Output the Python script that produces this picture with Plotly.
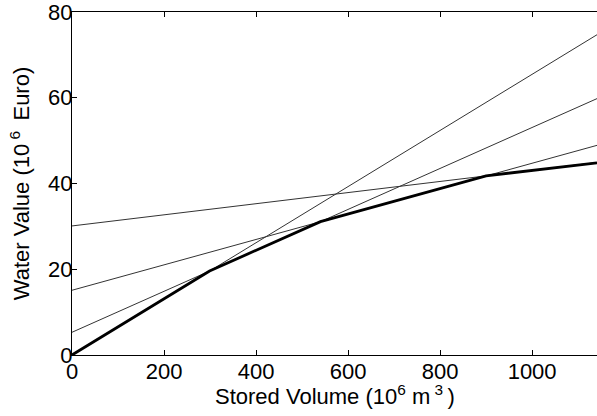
import plotly.graph_objects as go

# thin supporting lines: value at x = 0 and at right edge
x_ends = [0, 1141]
line1 = [0.0, 74.7]
line2 = [5.3, 59.8]
line3 = [15.1, 48.9]
line4 = [30.1, 44.9]

# bold envelope (water value function)
env_x = [0, 299, 540, 900, 1141]
env_y = [0.0, 19.6, 31.1, 41.8, 44.8]

x_ticks = [0, 200, 400, 600, 800, 1000]
y_ticks = [0, 20, 40, 60, 80]

fig = go.Figure()
for ys in [line1, line2, line3, line4]:
    fig.add_trace(go.Scatter(x=x_ends, y=ys, mode="lines",
                             line=dict(color="#333333", width=1), showlegend=False))
fig.add_trace(go.Scatter(x=env_x, y=env_y, mode="lines",
                         line=dict(color="black", width=2.8), showlegend=False))

font = dict(family="Liberation Sans, Arial, sans-serif", size=22, color="black")
fig.update_layout(
    width=597, height=416,
    margin=dict(l=72, r=0, t=10, b=61),
    paper_bgcolor="white", plot_bgcolor="white",
    font=font,
    showlegend=False,
)
fig.add_annotation(text="Stored Volume (10<sup>6</sup> m<sup> 3 </sup>)",
                   xref="paper", yref="paper", x=0.5, y=-0.118,
                   xanchor="center", yanchor="middle", showarrow=False,
                   font=dict(size=22))
fig.update_xaxes(range=[0, 1141], tickvals=x_ticks, ticks="inside", ticklen=5,
                 tickcolor="black", showgrid=False, zeroline=False,
                 showline=True, linecolor="black", linewidth=1, mirror="ticks",
                 ticklabelposition="outside", ticklabelstandoff=-3,
                 ticklabeloverflow="allow")
fig.update_yaxes(range=[0, 80], tickvals=y_ticks, ticks="inside", ticklen=5,
                 tickcolor="black", showgrid=False, zeroline=False,
                 showline=True, linecolor="black", linewidth=1,
                 ticklabelposition="outside", ticklabelstandoff=-6,
                 ticklabeloverflow="allow",
                 title=dict(text="Water Value (10<sup> 6 </sup> Euro)",
                            font=dict(size=22), standoff=12))

fig.write_html("out.html")
